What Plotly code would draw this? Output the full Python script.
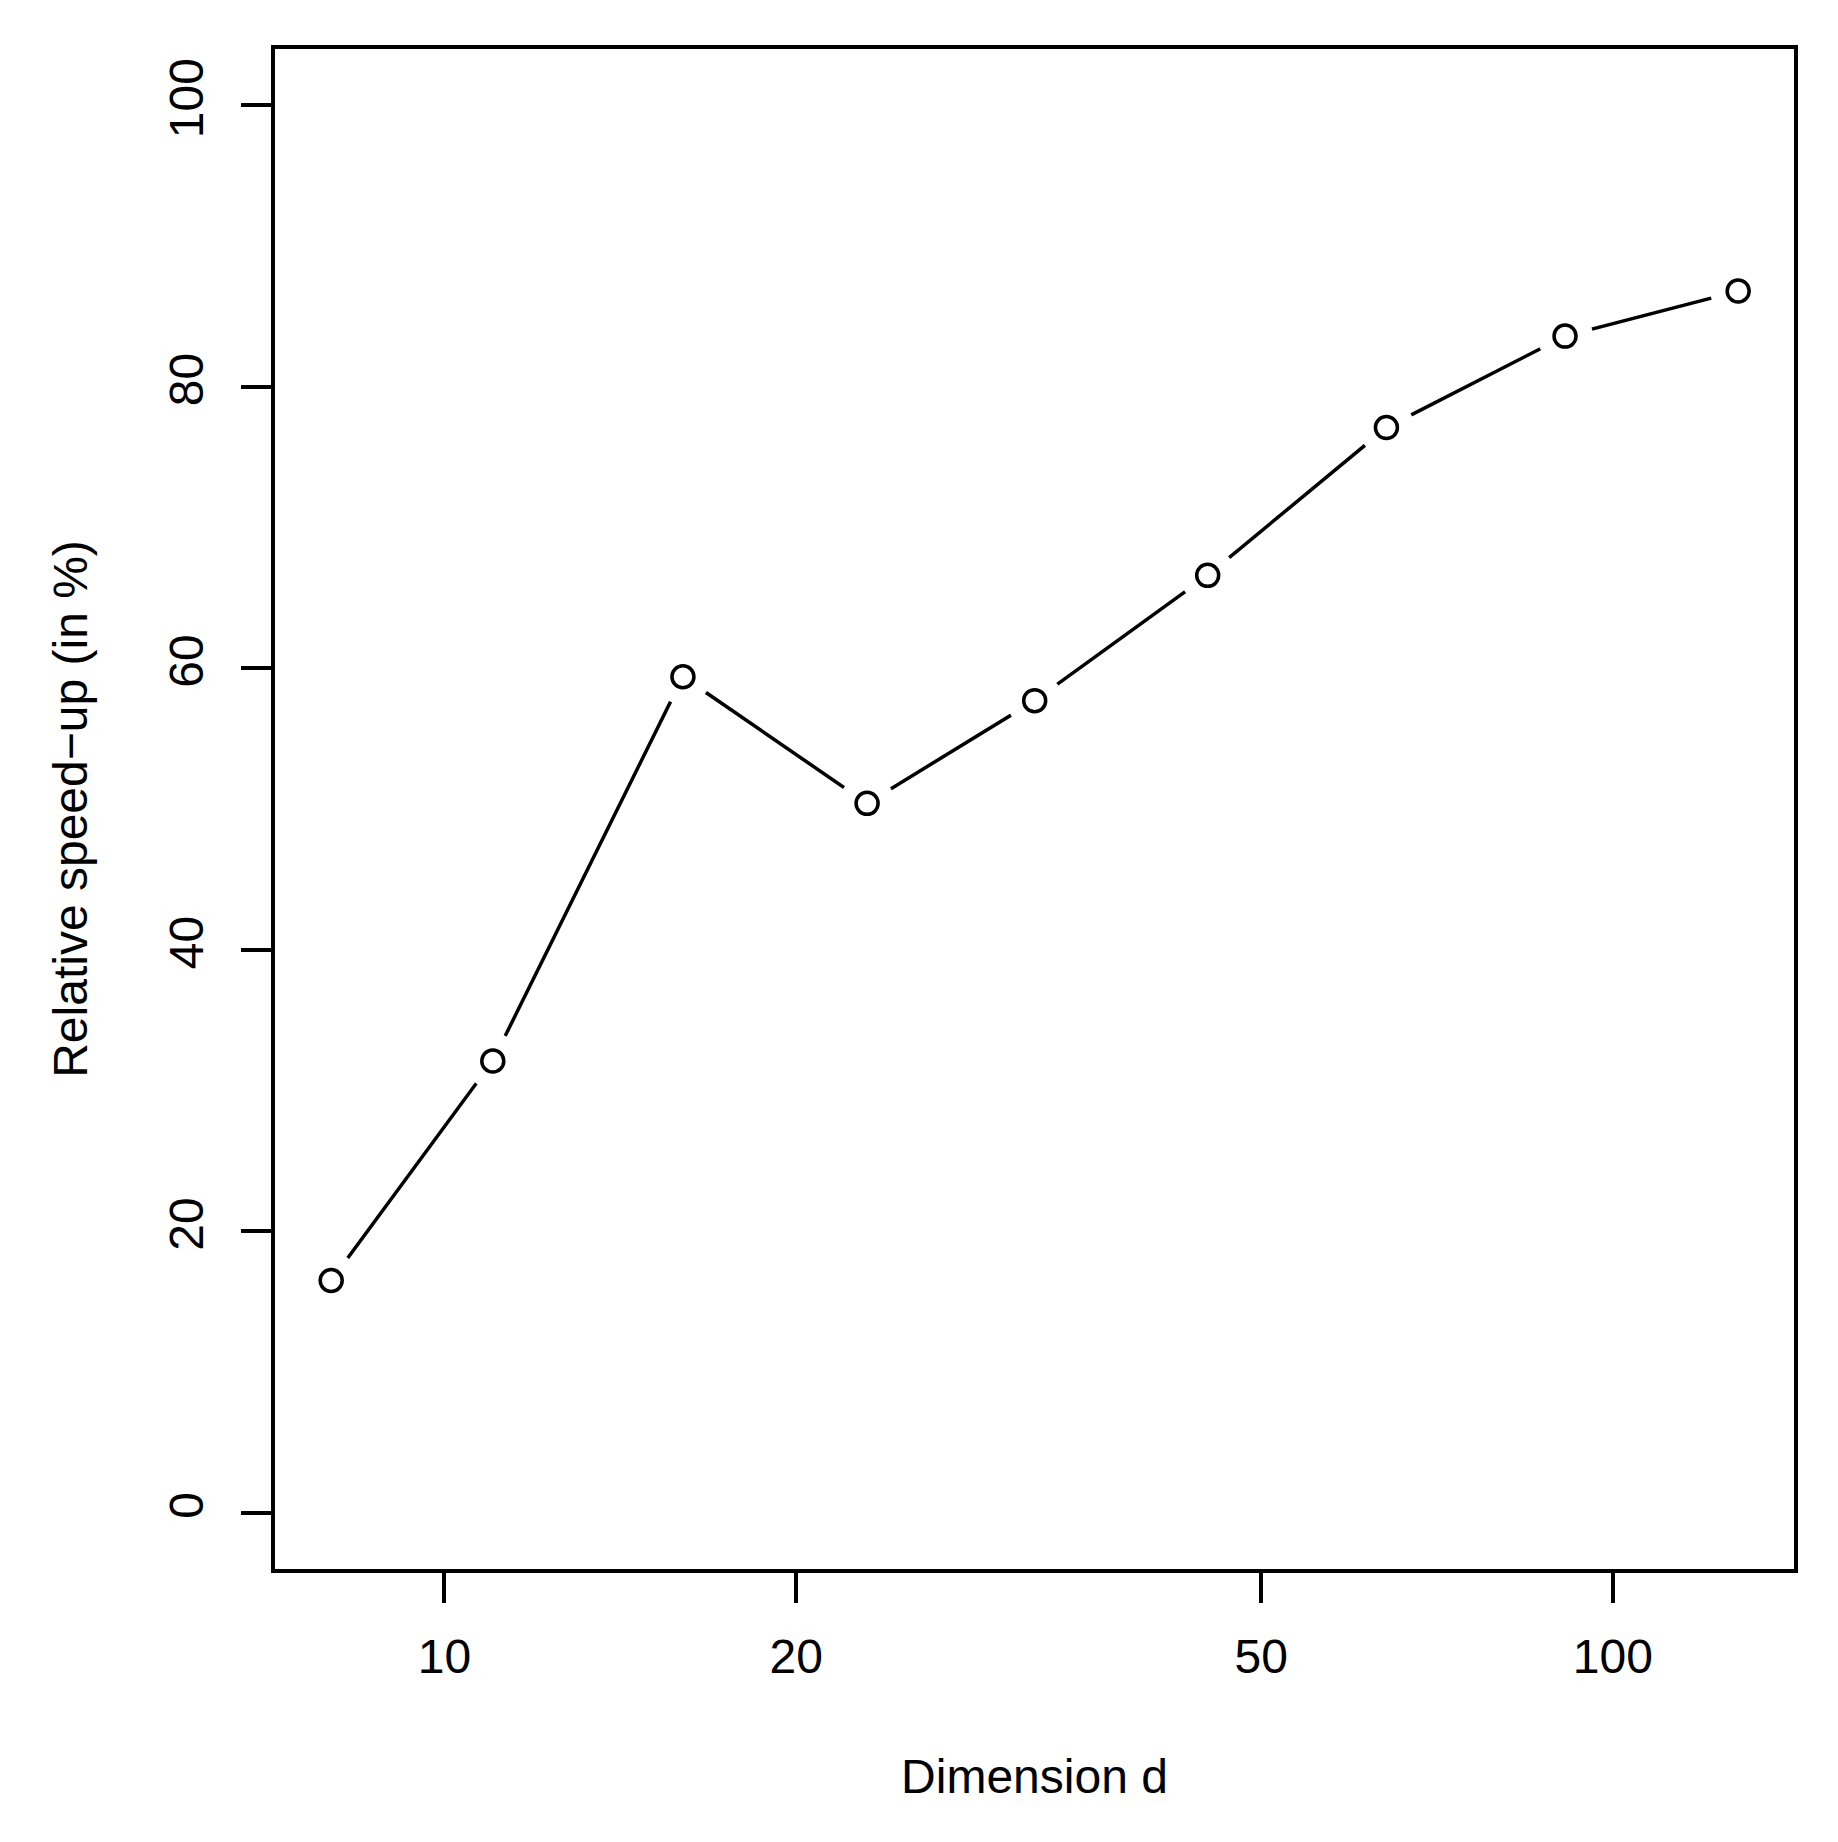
import plotly.graph_objects as go

dimension = [8, 11, 16, 23, 32, 45, 64, 91, 128]
speedup = [16.5, 32.1, 59.4, 50.4, 57.7, 66.6, 77.1, 83.6, 86.8]

x_ticks = [10, 20, 50, 100]
x_ticklabels = ["10", "20", "50", "100"]
y_ticks = [0, 20, 40, 60, 80, 100]
y_ticklabels = ["0", "20", "40", "60", "80", "100"]

FONT = "Liberation Sans, Arial, Helvetica, sans-serif"

fig = go.Figure()
fig.add_trace(go.Scatter(x=dimension, y=speedup, mode="lines",
                         line=dict(color="black", width=3.5), hoverinfo="skip"))
fig.add_trace(go.Scatter(x=dimension, y=speedup, mode="markers",
                         marker=dict(symbol="circle", size=56, color="white",
                                     line=dict(width=0)), hoverinfo="skip"))
fig.add_trace(go.Scatter(x=dimension, y=speedup, mode="markers",
                         marker=dict(symbol="circle-open", size=22, color="black",
                                     line=dict(width=3.5, color="black"))))

fig.update_layout(
    width=1838, height=1842,
    margin=dict(l=267, r=52, t=41, b=281),
    paper_bgcolor="white", plot_bgcolor="white",
    showlegend=False,
    font=dict(family=FONT, size=48, color="black"),
)
fig.update_xaxes(
    type="log", range=[0.855, 2.155],
    tickmode="array", tickvals=x_ticks, ticktext=x_ticklabels,
    ticks="outside", ticklen=30, tickwidth=3.5, tickcolor="black",
    showline=True, linewidth=3.5, linecolor="black", mirror=True,
    showgrid=False, zeroline=False,
    ticklabelstandoff=13,
    title=dict(text="Dimension d", standoff=78, font=dict(size=48)),
)
fig.update_yaxes(
    range=[-4, 104],
    tickmode="array", tickvals=y_ticks, ticktext=y_ticklabels,
    ticks="outside", ticklen=30, tickwidth=3.5, tickcolor="black",
    showline=True, linewidth=3.5, linecolor="black", mirror=True,
    showgrid=False, zeroline=False, tickangle=-90,
    ticklabelstandoff=19,
    title=dict(text="Relative speed−up (in %)", standoff=58, font=dict(size=48)),
)

fig.write_html("out.html")
